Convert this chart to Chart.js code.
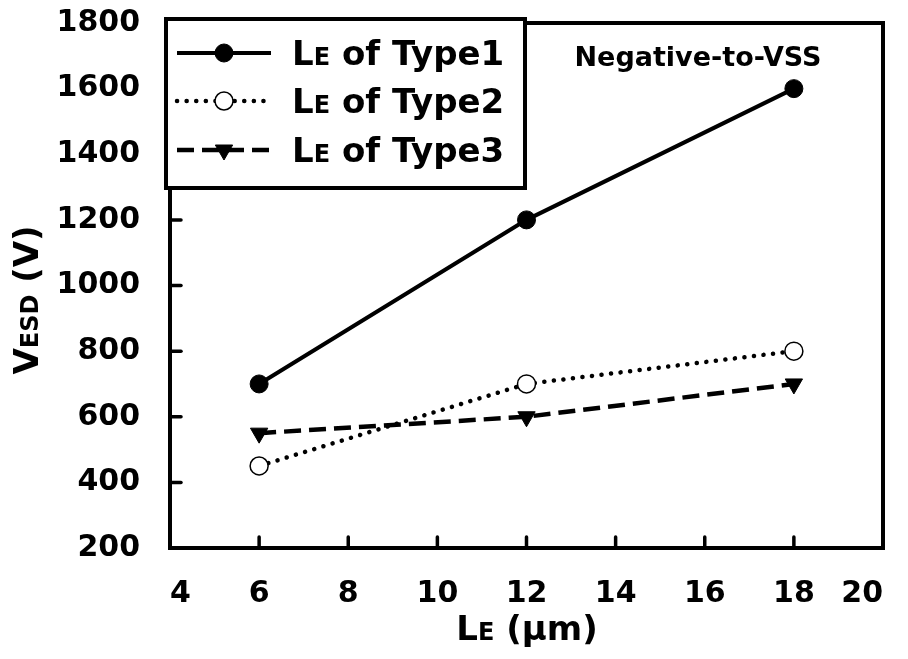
<!DOCTYPE html>
<html>
<head>
<meta charset="utf-8">
<script src="https://cdn.jsdelivr.net/npm/chart.js@4.4.1/dist/chart.umd.min.js"></script>
<style>
  html, body { margin: 0; padding: 0; background: #fff; }
</style>
</head>
<body>
<canvas id="esdChart" width="908" height="659"></canvas>
<script>
// data
const lengths = [6, 12, 18];            // LE (um)
const type1 = [700, 1200, 1600];
const type2 = [450, 700, 800];
const type3 = [550, 600, 700];
const seriesNames = ['Type1', 'Type2', 'Type3'];
const xRange = [4, 20, 2];
const yRange = [200, 1800, 200];
const noteText = 'Negative-to-VSS';

const FONT = '"DejaVu Sans", "Liberation Sans", Arial, sans-serif';

function toPoints(vals) {
    return lengths.map((x, i) => ({ x: x, y: vals[i] }));
}

// draws text made of [text, size] parts, starting at x (or centered)
function drawParts(ctx, parts, x, y, center) {
    let total = 0;
    parts.forEach(p => {
        ctx.font = 'bold ' + p[1] + 'px ' + FONT;
        total += ctx.measureText(p[0]).width;
    });
    let cx = center ? x - total / 2 : x;
    ctx.textAlign = 'left';
    ctx.textBaseline = 'alphabetic';
    parts.forEach(p => {
        ctx.font = 'bold ' + p[1] + 'px ' + FONT;
        ctx.fillText(p[0], cx, y);
        cx += ctx.measureText(p[0]).width;
    });
}

// box frame + inward ticks
const framePlugin = {
    id: 'frame',
    beforeDatasetsDraw(chart) {
        const { ctx, chartArea: a, scales } = chart;
        ctx.save();
        ctx.strokeStyle = '#000';
        ctx.lineWidth = 4;
        ctx.strokeRect(a.left, a.top, a.right - a.left, a.bottom - a.top);
        ctx.lineWidth = 3.5;
        ctx.lineCap = 'round';
        scales.x.ticks.forEach(t => {
            const px = scales.x.getPixelForValue(t.value);
            ctx.beginPath();
            ctx.moveTo(px, a.bottom);
            ctx.lineTo(px, a.bottom - 11);
            ctx.stroke();
        });
        scales.y.ticks.forEach(t => {
            const py = scales.y.getPixelForValue(t.value);
            ctx.beginPath();
            ctx.moveTo(a.left, py);
            ctx.lineTo(a.left + 11, py);
            ctx.stroke();
        });
        ctx.restore();
    }
};

// titles, note and the boxed legend
const textPlugin = {
    id: 'texts',
    afterDraw(chart) {
        const ctx = chart.ctx;
        ctx.save();
        ctx.fillStyle = '#000';

        // x title
        drawParts(ctx, [['L', 34], ['E', 24], [' (\u03bcm)', 34]], 527, 640, true);

        // y title
        ctx.save();
        ctx.translate(38, 300);
        ctx.rotate(-Math.PI / 2);
        drawParts(ctx, [['V', 34], ['ESD', 24], [' (V)', 34]], 0, 0, true);
        ctx.restore();

        // note
        drawParts(ctx, [[noteText, 27]], 698, 66, true);

        // legend box
        ctx.fillStyle = '#fff';
        ctx.strokeStyle = '#000';
        ctx.lineWidth = 4;
        ctx.fillRect(166, 19, 359, 169);
        ctx.strokeRect(166, 19, 359, 169);

        const rows = [53, 101, 150];
        chart.data.datasets.forEach((ds, i) => {
            const ry = rows[i];
            ctx.save();
            ctx.strokeStyle = ds.borderColor;
            ctx.lineWidth = ds.borderWidth;
            ctx.lineCap = ds.borderCapStyle || 'butt';
            ctx.setLineDash(ds.borderDash || []);
            ctx.beginPath();
            ctx.moveTo(177, ry);
            ctx.lineTo(271, ry);
            ctx.stroke();
            ctx.restore();

            ctx.save();
            ctx.fillStyle = ds.pointBackgroundColor;
            ctx.strokeStyle = ds.pointBorderColor;
            ctx.lineWidth = ds.pointBorderWidth;
            Chart.helpers.drawPoint(ctx, {
                pointStyle: ds.pointStyle,
                rotation: ds.pointRotation || 0,
                radius: ds.pointRadius,
                borderWidth: ds.pointBorderWidth
            }, 224, ry);
            ctx.restore();

            ctx.fillStyle = '#000';
            drawParts(ctx, [['L', 34], ['E', 24], [' of ' + seriesNames[i], 34]], 292, ry + 12, false);
        });
        ctx.restore();
    }
};

function noPad(scale) {
    scale.paddingLeft = 0;
    scale.paddingRight = 0;
    scale.paddingTop = 0;
    scale.paddingBottom = 0;
}

const ctx = document.getElementById('esdChart').getContext('2d');
const esdChart = new Chart(ctx, {
    type: 'line',
    data: {
        datasets: [{
            label: 'LE of ' + seriesNames[0],
            data: toPoints(type1),
            borderColor: '#000',
            borderWidth: 4,
            pointStyle: 'circle',
            pointRadius: 9,
            pointBackgroundColor: '#000',
            pointBorderColor: '#000',
            pointBorderWidth: 1
        }, {
            label: 'LE of ' + seriesNames[1],
            data: toPoints(type2),
            borderColor: '#000',
            borderWidth: 4.5,
            borderDash: [0.1, 9.5],
            borderCapStyle: 'round',
            pointStyle: 'circle',
            pointRadius: 9,
            pointBackgroundColor: '#fff',
            pointBorderColor: '#000',
            pointBorderWidth: 1.5
        }, {
            label: 'LE of ' + seriesNames[2],
            data: toPoints(type3),
            borderColor: '#000',
            borderWidth: 4.5,
            borderDash: [17, 8],
            pointStyle: 'triangle',
            pointRotation: 180,
            pointRadius: 10,
            pointBackgroundColor: '#000',
            pointBorderColor: '#000',
            pointBorderWidth: 1
        }]
    },
    options: {
        responsive: false,
        animation: false,
        devicePixelRatio: 1,
        layout: { padding: { left: 0, top: 23, right: 25, bottom: 0 } },
        plugins: {
            legend: { display: false },
            tooltip: { enabled: false }
        },
        scales: {
            x: {
                type: 'linear',
                min: xRange[0],
                max: xRange[1],
                grid: { display: false },
                border: { display: false },
                ticks: {
                    stepSize: xRange[2],
                    color: '#000',
                    padding: 20,
                    maxRotation: 0,
                    align: 'inner',
                    font: { family: FONT, size: 30, weight: 'bold' },
                    callback: v => String(v)
                },
                afterFit(scale) { scale.height = 111; noPad(scale); }
            },
            y: {
                type: 'linear',
                min: yRange[0],
                max: yRange[1],
                grid: { display: false },
                border: { display: false },
                ticks: {
                    stepSize: yRange[2],
                    color: '#000',
                    padding: 22,
                    font: { family: FONT, size: 30, weight: 'bold' },
                    callback: v => String(v)
                },
                afterFit(scale) { scale.width = 170; noPad(scale); }
            }
        }
    },
    plugins: [framePlugin, textPlugin]
});
</script>
</body>
</html>
